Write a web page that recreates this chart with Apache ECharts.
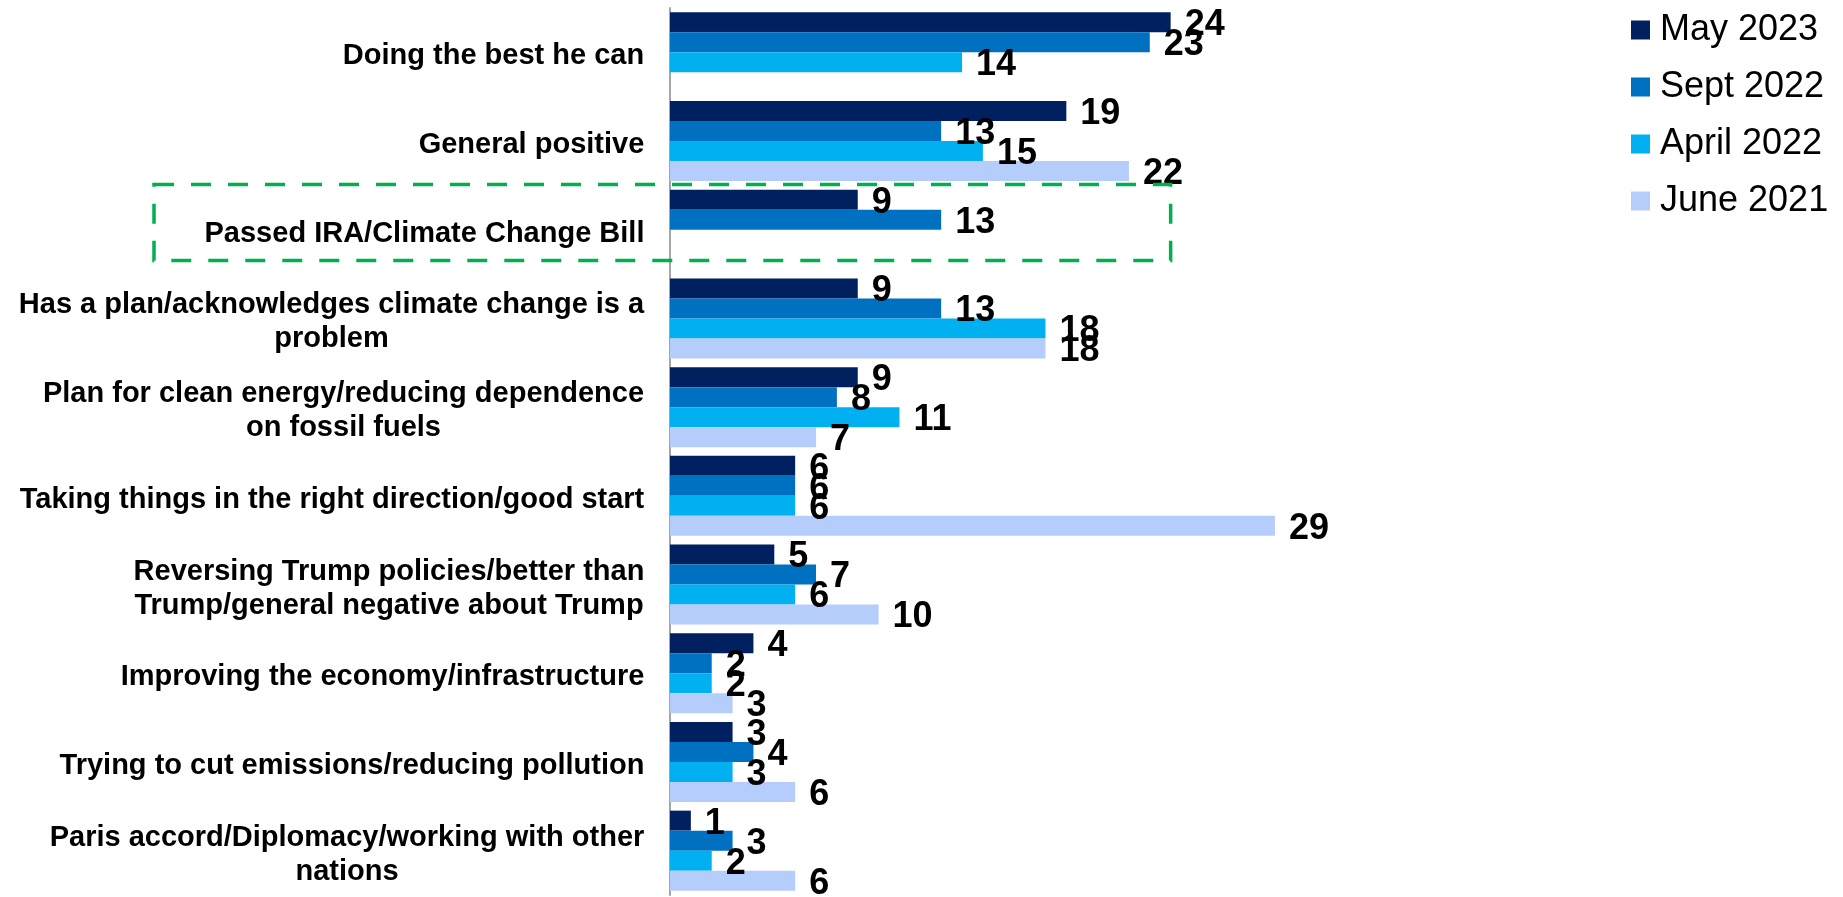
<!DOCTYPE html>
<html>
<head>
<meta charset="utf-8">
<script src="https://cdn.jsdelivr.net/npm/echarts@6/dist/echarts.min.js"></script>
<style>
  html, body { margin: 0; padding: 0; background: #ffffff; }
  #chart { width: 1843px; height: 897px; }
</style>
</head>
<body>
<div id="chart"></div>
<script>
// ---- Data ----
const categories = [
  'Doing the best he can',
  'General positive',
  'Passed IRA/Climate Change Bill',
  'Has a plan/acknowledges climate change is a\nproblem',
  'Plan for clean energy/reducing dependence\non fossil fuels',
  'Taking things in the right direction/good start',
  'Reversing Trump policies/better than\nTrump/general negative about Trump',
  'Improving the economy/infrastructure',
  'Trying to cut emissions/reducing pollution',
  'Paris accord/Diplomacy/working with other\nnations'
];
const seriesNames = ['May 2023', 'Sept 2022', 'April 2022', 'June 2021'];
const may2023   = [24, 19, 9, 9, 9, 6, 5, 4, 3, 1];
const sept2022  = [23, 13, 13, 13, 8, 6, 7, 2, 4, 3];
const april2022 = [14, 15, null, 18, 11, 6, 6, 2, 3, 2];
const june2021  = [null, 22, null, 18, 7, 29, 10, 3, 6, 6];
const highlightedCategory = 'Passed IRA/Climate Change Bill';

// ---- Styles ----
const FONT = '"Liberation Sans", Arial, Helvetica, sans-serif';
const colors = ['#002060', '#0070C0', '#00B0F0', '#B4CDFB'];
const CAT_FONT_SIZE = 29;
const CAT_LINE_HEIGHT = 34;

// measure label lines to center wrapped lines under the longest one
const mctx = document.createElement('canvas').getContext('2d');
mctx.font = 'bold ' + CAT_FONT_SIZE + 'px ' + FONT;
const rich = {};
categories.forEach((c, i) => {
  const w = Math.max(...c.split('\n').map(l => mctx.measureText(l).width));
  rich['l' + i] = {
    width: Math.ceil(w) + 1,
    align: 'center',
    fontSize: CAT_FONT_SIZE,
    fontWeight: 'bold',
    fontFamily: FONT,
    lineHeight: CAT_LINE_HEIGHT,
    color: '#000000'
  };
});

const allSeries = [may2023, sept2022, april2022, june2021];

const chart = echarts.init(document.getElementById('chart'), null, { renderer: 'canvas' });

const option = {
  backgroundColor: '#ffffff',
  animation: false,
  textStyle: { fontFamily: FONT },
  grid: { left: 670, top: 8, width: 40 * 20.86, height: 887, containLabel: false },
  legend: {
    orient: 'vertical',
    left: 1631,
    top: 12,
    padding: 0,
    icon: 'rect',
    itemWidth: 19,
    itemHeight: 19,
    itemGap: 21,
    data: seriesNames,
    textStyle: { fontSize: 36, color: '#000000', fontFamily: FONT, lineHeight: 36, padding: [0, 0, 0, 5] }
  },
  xAxis: {
    type: 'value',
    min: 0,
    max: 40,
    show: false,
    splitLine: { show: false }
  },
  yAxis: {
    type: 'category',
    inverse: true,
    data: categories,
    axisLine: { show: true, lineStyle: { color: '#A6A6A6', width: 2 } },
    axisTick: { show: false },
    axisLabel: {
      margin: 25,
      align: 'right',
      padding: [8, 0, 0, 0],
      formatter: (value, index) => value.split('\n').map(l => '{l' + index + '|' + l + '}').join('\n'),
      rich: rich
    }
  },
  series: allSeries.map((arr, i) => ({
    name: seriesNames[i],
    type: 'bar',
    data: arr,
    barWidth: 20,
    barGap: '0%',
    itemStyle: { color: colors[i] },
    label: {
      show: true,
      position: 'right',
      distance: 14,
      offset: [0, 3],
      fontSize: 36,
      fontWeight: 'bold',
      fontFamily: FONT,
      color: '#000000'
    },
    z: 2
  }))
};
chart.setOption(option);

// dashed highlight box around the IRA category, positioned from the axes
const idx = categories.indexOf(highlightedCategory);
const yTop = chart.convertToPixel({ yAxisIndex: 0 }, idx) - 44.35 - 1;
const xRight = chart.convertToPixel({ xAxisIndex: 0 }, 24);
chart.setOption({
  graphic: [{
    type: 'rect',
    z: 100,
    shape: { x: 154, y: yTop, width: xRight - 154, height: 76 },
    style: { fill: null, stroke: '#00B050', lineWidth: 3.5, lineDash: [20, 17] }
  }]
});
</script>
</body>
</html>
